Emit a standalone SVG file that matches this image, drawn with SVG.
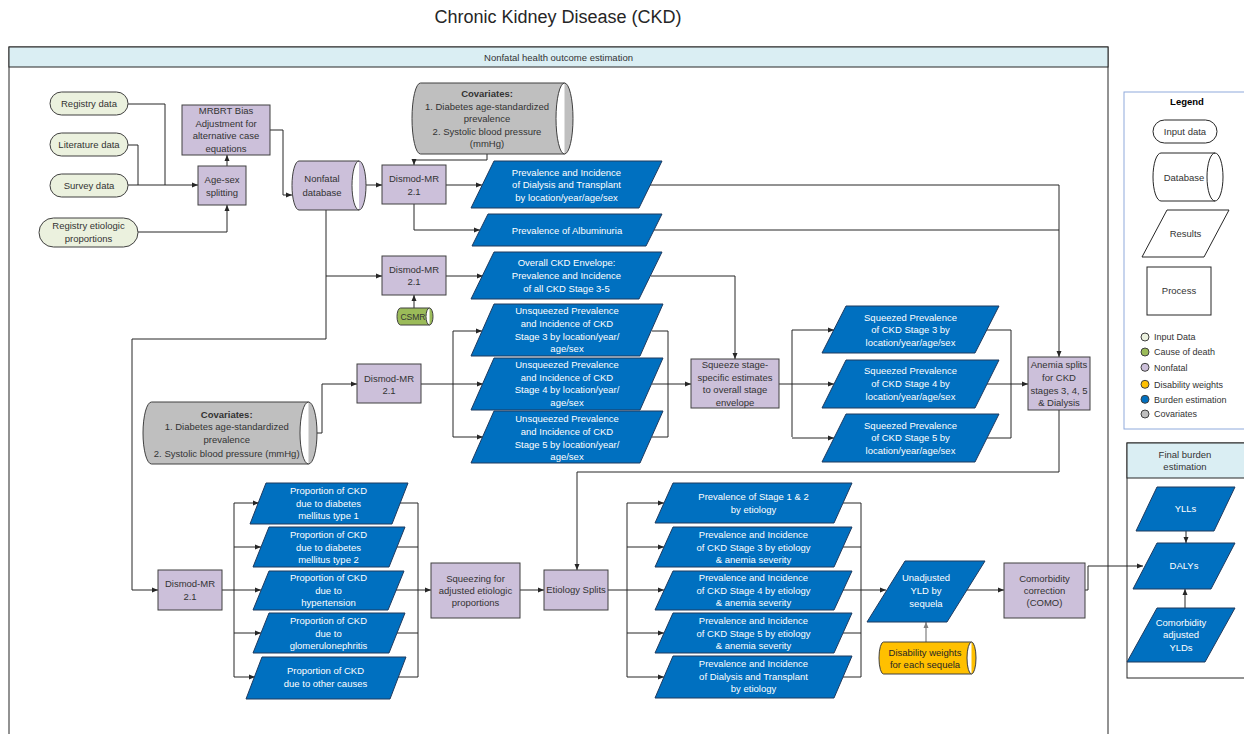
<svg xmlns="http://www.w3.org/2000/svg" width="1244" height="734" viewBox="0 0 1244 734">
<defs>
<style>
.t{font-family:"Liberation Sans",Arial,sans-serif;font-size:9.5px;fill:#333;text-anchor:middle}
.tw{fill:#fff}
.b{font-weight:bold}
.proc{fill:#CCC0DA;stroke:#404040;stroke-width:1}
.res{fill:#0070C0;stroke:#1F3A5F;stroke-width:1}
.inp{fill:#EBF1DE;stroke:#404040;stroke-width:1}
.cov{fill:#BFBFBF;stroke:#404040;stroke-width:1}
.csmr{fill:#9BBB59;stroke:#404040;stroke-width:1}
.dw{fill:#FFC000;stroke:#404040;stroke-width:1}
.lg{fill:#fff;stroke:#262626;stroke-width:1}
.c{fill:none;stroke:#262626;stroke-width:1}
.cg{fill:none;stroke:#7F7F7F;stroke-width:1.2}
.a{marker-end:url(#ah)}
.ag{marker-end:url(#ahg)}
.lt{font-family:"Liberation Sans",Arial,sans-serif;font-size:9px;fill:#333}
</style>
<marker id="ah" viewBox="0 0 6 6" refX="6" refY="3" markerWidth="6" markerHeight="6" markerUnits="userSpaceOnUse" orient="auto"><path d="M0,0.5 L6,3 L0,5.5 Z" fill="#262626"/></marker>
<marker id="ahg" viewBox="0 0 6 6" refX="6" refY="3" markerWidth="6" markerHeight="6" markerUnits="userSpaceOnUse" orient="auto"><path d="M0,0.5 L6,3 L0,5.5 Z" fill="#7F7F7F"/></marker>
</defs>
<rect x="0" y="0" width="1244" height="734" fill="#fff"/>
<g id="title"><text x="558" y="23" style="font-family:'Liberation Sans',Arial,sans-serif;font-size:18px;fill:#262626;text-anchor:middle">Chronic Kidney Disease (CKD)</text></g>

<g id="container-nonfatal">
<rect x="9" y="47" width="1099" height="700" fill="#fff" stroke="#262626" stroke-width="1"/>
<rect x="9" y="47" width="1099" height="20" fill="#DAEEF3" stroke="#262626" stroke-width="1"/>
<text class="t" x="558.5" y="60.5">Nonfatal health outcome estimation</text>
</g>

<g id="container-legend">
<rect x="1124" y="92" width="130" height="337" fill="#fff" stroke="#8FAADC" stroke-width="1"/>
<text class="t b" x="1187" y="105" style="fill:#000">Legend</text>
<rect class="lg" x="1153" y="120" width="64" height="23" rx="11.5"/>
<text class="t" x="1185" y="134.5">Input data</text>
<path class="lg" d="M1161,153 H1215 A8,24 0 0 1 1215,201 H1161 A8,24 0 0 1 1161,153 Z M1215,153 A8,24 0 0 0 1215,201"/>
<text class="t" x="1184" y="180.5">Database</text>
<polygon class="lg" points="1167,210 1229,210 1204,257 1142,257"/>
<text class="t" x="1185.5" y="237">Results</text>
<rect class="lg" x="1147" y="267" width="64" height="48"/>
<text class="t" x="1179" y="294.3">Process</text>
<circle cx="1145" cy="337" r="4" fill="#EBF1DE" stroke="#404040"/>
<text class="lt" x="1154" y="340.2">Input Data</text>
<circle cx="1145" cy="352" r="4" fill="#9BBB59" stroke="#404040"/>
<text class="lt" x="1154" y="355.2">Cause of death</text>
<circle cx="1145" cy="367.3" r="4" fill="#CCC0DA" stroke="#404040"/>
<text class="lt" x="1154" y="370.5">Nonfatal</text>
<circle cx="1145" cy="384.3" r="4" fill="#FFC000" stroke="#404040"/>
<text class="lt" x="1154" y="387.5">Disability weights</text>
<circle cx="1145" cy="399.3" r="4" fill="#0070C0" stroke="#404040"/>
<text class="lt" x="1154" y="402.5">Burden estimation</text>
<circle cx="1145" cy="414" r="4" fill="#BFBFBF" stroke="#404040"/>
<text class="lt" x="1154" y="417.2">Covariates</text>
</g>

<g id="container-final">
<rect x="1127" y="443" width="130" height="235" fill="#fff" stroke="#262626" stroke-width="1"/>
<rect x="1127" y="443" width="130" height="35" fill="#DAEEF3" stroke="#262626" stroke-width="1"/>
<text class="t" x="1185" y="458.3">Final burden</text>
<text class="t" x="1185" y="470.3">estimation</text>
</g>

<g id="connectors">
<path class="c" d="M128,104 H165 V185"/>
<path class="c" d="M128,145 H138 V185"/>
<path class="c a" d="M128,185 H198"/>
<path class="c a" d="M138,232 H227 V205"/>
<path class="c a" d="M227,166 V155"/>
<path class="c a" d="M270,130 H283 V195 H292"/>
<path class="c a" d="M360,185 H382"/>
<path class="c a" d="M487,154 V160 H414 V165"/>
<path class="c a" d="M446,185 H482"/>
<path class="c a" d="M414,204 V230 H480"/>
<path class="c a" d="M326,210 V339 H132 V590 H158"/>
<path class="c a" d="M326,276 H382"/>
<path class="c a" d="M414,308 V295"/>
<path class="c a" d="M446,276 H483"/>
<path class="c a" d="M650,185 H1059 V357"/>
<path class="c" d="M654,230 H1059"/>
<path class="c a" d="M651,276 H735 V359"/>
<path class="c a" d="M310,433 H322 V384 H357"/>
<path class="c" d="M421,384 H453 M453,331 V437"/>
<path class="c a" d="M453,331 H482"/>
<path class="c a" d="M453,384 H483"/>
<path class="c a" d="M453,437 H483"/>
<path class="c" d="M652,331 H668 M652,384 H668 M652,437 H668 M668,331 V437"/>
<path class="c a" d="M668,384 H691"/>
<path class="c" d="M779,384 H792 M792,330 V437"/>
<path class="c a" d="M792,330 H834"/>
<path class="c a" d="M792,384 H834"/>
<path class="c a" d="M792,438 H834"/>
<path class="c" d="M987,330 H1011 M987,384 H1011 M987,438 H1011 M1011,330 V438"/>
<path class="c a" d="M1011,384 H1028"/>
<path class="c a" d="M1059,410 V472 H577 V570"/>
<path class="c" d="M222,590 H234 M234,503 V677"/>
<path class="c a" d="M234,503 H259"/>
<path class="c a" d="M234,547 H261"/>
<path class="c a" d="M234,590 H261"/>
<path class="c a" d="M234,633 H261"/>
<path class="c a" d="M234,677 H255"/>
<path class="c" d="M400,503 H418 M397,547 H418 M396,590 H418 M397,633 H418 M398,677 H418 M418,503 V677"/>
<path class="c a" d="M418,590 H431"/>
<path class="c a" d="M520,590 H544"/>
<path class="c" d="M608,590 H627 M627,503 V677"/>
<path class="c a" d="M627,503 H664"/>
<path class="c a" d="M627,547 H664"/>
<path class="c a" d="M627,590 H664"/>
<path class="c a" d="M627,633 H664"/>
<path class="c a" d="M627,677 H664"/>
<path class="c" d="M843,503 H861 M843,547 H861 M843,590 H861 M843,633 H861 M843,677 H861 M861,503 V677"/>
<path class="c a" d="M861,590 H886"/>
<path class="cg ag" d="M926,642 V622"/>
<path class="c a" d="M966,590 H1004"/>
<path class="c a" d="M1085,590 H1088 V566 H1143"/>
<path class="c a" d="M1186,531 V543"/>
<path class="c a" d="M1185,608 V589"/>
</g>

<g id="registry-data"><rect class="inp" x="50" y="92" width="78" height="23" rx="11.5"/><text class="t" x="89" y="107.3">Registry data</text></g>
<g id="literature-data"><rect class="inp" x="50" y="133" width="78" height="23" rx="11.5"/><text class="t" x="89" y="148.3">Literature data</text></g>
<g id="survey-data"><rect class="inp" x="50" y="174" width="78" height="23" rx="11.5"/><text class="t" x="89" y="189.3">Survey data</text></g>
<g id="registry-etiologic"><rect class="inp" x="39" y="218" width="99" height="29" rx="14.5"/><text class="t" x="88.5" y="229.3">Registry etiologic</text><text class="t" x="88.5" y="242.3">proportions</text></g>

<g id="age-sex"><rect class="proc" x="198" y="166" width="48" height="39"/><text class="t" x="222" y="182.6">Age-sex</text><text class="t" x="222" y="195.9">splitting</text></g>
<g id="mrbrt"><rect class="proc" x="182" y="105" width="88" height="50"/><text class="t" x="226" y="114.3">MRBRT Bias</text><text class="t" x="226" y="126.6">Adjustment for</text><text class="t" x="226" y="139.3">alternative case</text><text class="t" x="226" y="151.6">equations</text></g>

<g id="nonfatal-db"><path class="proc" d="M299,161 H359 A7,24.5 0 0 1 359,210 H299 A7,24.5 0 0 1 299,161 Z M359,161 A7,24.5 0 0 0 359,210"/><text class="t" x="322" y="182.3">Nonfatal</text><text class="t" x="322" y="195.6">database</text></g>

<g id="covariates-top"><path class="cov" d="M420.5,83 H564.5 A8.5,35.5 0 0 1 564.5,154 H420.5 A8.5,35.5 0 0 1 420.5,83 Z M564.5,83 A8.5,35.5 0 0 0 564.5,154"/><text class="t b" x="487" y="97.3">Covariates:</text><text class="t" x="487" y="110">1. Diabetes age-standardized</text><text class="t" x="487" y="122.3">prevalence</text><text class="t" x="487" y="135">2. Systolic blood pressure</text><text class="t" x="487" y="147.3">(mmHg)</text></g>

<g id="dismod-1"><rect class="proc" x="382" y="165" width="64" height="39"/><text class="t" x="414" y="182">Dismod-MR</text><text class="t" x="414" y="195">2.1</text></g>
<g id="dismod-2"><rect class="proc" x="382" y="256" width="64" height="39"/><text class="t" x="414" y="272.6">Dismod-MR</text><text class="t" x="414" y="285">2.1</text></g>
<g id="csmr"><path class="csmr" d="M400.5,308 H429.5 A3.5,8.5 0 0 1 429.5,325 H400.5 A3.5,8.5 0 0 1 400.5,308 Z M429.5,308 A3.5,8.5 0 0 0 429.5,325"/><text class="t" x="413" y="319.6" style="font-size:8.5px">CSMR</text></g>

<g id="res-dialysis"><polygon class="res" points="494,161 662,161 639,208 471,208"/><text class="t tw" x="566.5" y="176">Prevalence and Incidence</text><text class="t tw" x="566.5" y="188.3">of Dialysis and Transplant</text><text class="t tw" x="566.5" y="201">by location/year/age/sex</text></g>
<g id="res-albuminuria"><polygon class="res" points="488,214 662,214 646,246 472,246"/><text class="t tw" x="567" y="234">Prevalence of Albuminuria</text></g>
<g id="res-envelope"><polygon class="res" points="494,252 662,252 639,299 471,299"/><text class="t tw" x="566.5" y="266">Overall CKD Envelope:</text><text class="t tw" x="566.5" y="279">Prevalence and Incidence</text><text class="t tw" x="566.5" y="291.6">of all CKD Stage 3-5</text></g>

<g id="covariates-mid"><path class="cov" d="M151.5,402 H308.5 A8.5,31 0 0 1 308.5,464 H151.5 A8.5,31 0 0 1 151.5,402 Z M308.5,402 A8.5,31 0 0 0 308.5,464"/><text class="t b" x="226.7" y="418.3">Covariates:</text><text class="t" x="226.7" y="430">1. Diabetes age-standardized</text><text class="t" x="226.7" y="443.3">prevalence</text><text class="t" x="226.7" y="456.6">2. Systolic blood pressure (mmHg)</text></g>

<g id="dismod-3"><rect class="proc" x="357" y="364" width="64" height="39"/><text class="t" x="389" y="381.6">Dismod-MR</text><text class="t" x="389" y="393.6">2.1</text></g>

<g id="unsq-3"><polygon class="res" points="494,304 663,304 640,356 471,356"/><text class="t tw" x="567" y="314">Unsqueezed Prevalence</text><text class="t tw" x="567" y="326.6">and Incidence of CKD</text><text class="t tw" x="567" y="340">Stage 3 by location/year/</text><text class="t tw" x="567" y="352.3">age/sex</text></g>
<g id="unsq-4"><polygon class="res" points="494,358 663,358 640,410 471,410"/><text class="t tw" x="567" y="368.3">Unsqueezed Prevalence</text><text class="t tw" x="567" y="381">and Incidence of CKD</text><text class="t tw" x="567" y="393.3">Stage 4 by location/year/</text><text class="t tw" x="567" y="406">age/sex</text></g>
<g id="unsq-5"><polygon class="res" points="494,411 663,411 640,463 471,463"/><text class="t tw" x="567" y="422.3">Unsqueezed Prevalence</text><text class="t tw" x="567" y="435">and Incidence of CKD</text><text class="t tw" x="567" y="448.3">Stage 5 by location/year/</text><text class="t tw" x="567" y="460">age/sex</text></g>

<g id="squeeze-stage"><rect class="proc" x="691" y="359" width="88" height="49"/><text class="t" x="735" y="368.3">Squeeze stage-</text><text class="t" x="735" y="380.6">specific estimates</text><text class="t" x="735" y="393.3">to overall stage</text><text class="t" x="735" y="405.6">envelope</text></g>

<g id="sq-3"><polygon class="res" points="846,306 999,306 975,353 822,353"/><text class="t tw" x="910.5" y="321">Squeezed Prevalence</text><text class="t tw" x="910.5" y="333.3">of CKD Stage 3 by</text><text class="t tw" x="910.5" y="346">location/year/age/sex</text></g>
<g id="sq-4"><polygon class="res" points="846,360 999,360 975,408 822,408"/><text class="t tw" x="910.5" y="374.3">Squeezed Prevalence</text><text class="t tw" x="910.5" y="387.3">of CKD Stage 4 by</text><text class="t tw" x="910.5" y="400">location/year/age/sex</text></g>
<g id="sq-5"><polygon class="res" points="846,414 999,414 975,462 822,462"/><text class="t tw" x="910.5" y="429.3">Squeezed Prevalence</text><text class="t tw" x="910.5" y="441">of CKD Stage 5 by</text><text class="t tw" x="910.5" y="454.3">location/year/age/sex</text></g>

<g id="anemia"><rect class="proc" x="1028" y="357" width="62" height="53"/><text class="t" x="1059" y="368.3">Anemia splits</text><text class="t" x="1059" y="381">for CKD</text><text class="t" x="1059" y="394.3">stages 3, 4, 5</text><text class="t" x="1059" y="406">&amp; Dialysis</text></g>

<g id="dismod-4"><rect class="proc" x="158" y="570" width="64" height="40"/><text class="t" x="190" y="586.6">Dismod-MR</text><text class="t" x="190" y="600">2.1</text></g>

<g id="prop-1"><polygon class="res" points="266,483 408,483 392,524 250,524"/><text class="t tw" x="328.5" y="494">Proportion of CKD</text><text class="t tw" x="328.5" y="506.6">due to diabetes</text><text class="t tw" x="328.5" y="519">mellitus type 1</text></g>
<g id="prop-2"><polygon class="res" points="269,527 405,527 389,567 253,567"/><text class="t tw" x="328.5" y="537.6">Proportion of CKD</text><text class="t tw" x="328.5" y="551">due to diabetes</text><text class="t tw" x="328.5" y="562.6">mellitus type 2</text></g>
<g id="prop-3"><polygon class="res" points="269,571 404,571 388,610 253,610"/><text class="t tw" x="328.5" y="581">Proportion of CKD</text><text class="t tw" x="328.5" y="594">due to</text><text class="t tw" x="328.5" y="606">hypertension</text></g>
<g id="prop-4"><polygon class="res" points="269,613 405,613 389,653 253,653"/><text class="t tw" x="328.5" y="624">Proportion of CKD</text><text class="t tw" x="328.5" y="636.6">due to</text><text class="t tw" x="328.5" y="649">glomerulonephritis</text></g>
<g id="prop-5"><polygon class="res" points="262,657 406,657 390,699 246,699"/><text class="t tw" x="325.5" y="674">Proportion of CKD</text><text class="t tw" x="325.5" y="686.6">due to other causes</text></g>

<g id="squeezing"><rect class="proc" x="431" y="563" width="89" height="55"/><text class="t" x="475.5" y="581.6">Squeezing for</text><text class="t" x="475.5" y="594">adjusted etiologic</text><text class="t" x="475.5" y="606.3">proportions</text></g>

<g id="etiology-splits"><rect class="proc" x="544" y="570" width="64" height="40"/><text class="t" x="576" y="593.3">Etiology Splits</text></g>

<g id="et-1"><polygon class="res" points="673,483 852,483 834,523 655,523"/><text class="t tw" x="753.5" y="500">Prevalence of Stage 1 &amp; 2</text><text class="t tw" x="753.5" y="512.6">by etiology</text></g>
<g id="et-2"><polygon class="res" points="673,527 852,527 834,567 655,567"/><text class="t tw" x="753.5" y="538.3">Prevalence and Incidence</text><text class="t tw" x="753.5" y="551">of CKD Stage 3 by etiology</text><text class="t tw" x="753.5" y="563.3">&amp; anemia severity</text></g>
<g id="et-3"><polygon class="res" points="673,571 852,571 834,610 655,610"/><text class="t tw" x="753.5" y="581">Prevalence and Incidence</text><text class="t tw" x="753.5" y="594">of CKD Stage 4 by etiology</text><text class="t tw" x="753.5" y="606">&amp; anemia severity</text></g>
<g id="et-4"><polygon class="res" points="673,613 852,613 834,653 655,653"/><text class="t tw" x="753.5" y="624">Prevalence and Incidence</text><text class="t tw" x="753.5" y="636.6">of CKD Stage 5 by etiology</text><text class="t tw" x="753.5" y="649">&amp; anemia severity</text></g>
<g id="et-5"><polygon class="res" points="673,656 852,656 834,698 655,698"/><text class="t tw" x="753.5" y="666.6">Prevalence and Incidence</text><text class="t tw" x="753.5" y="680">of Dialysis and Transplant</text><text class="t tw" x="753.5" y="692.3">by etiology</text></g>

<g id="unadjusted-yld"><polygon class="res" points="905,561 985,561 947,622 867,622"/><text class="t tw" x="926" y="581">Unadjusted</text><text class="t tw" x="926" y="594">YLD by</text><text class="t tw" x="926" y="606.6">sequela</text></g>
<g id="disability-weights"><path class="dw" d="M883.5,642 H971.5 A4.5,16 0 0 1 971.5,674 H883.5 A4.5,16 0 0 1 883.5,642 Z M971.5,642 A4.5,16 0 0 0 971.5,674"/><text class="t" x="925" y="656" style="fill:#262626">Disability weights</text><text class="t" x="925" y="668.3" style="fill:#262626">for each sequela</text></g>

<g id="como"><rect class="proc" x="1004" y="563" width="81" height="55"/><text class="t" x="1044.5" y="581.6">Comorbidity</text><text class="t" x="1044.5" y="594">correction</text><text class="t" x="1044.5" y="606.3">(COMO)</text></g>

<g id="ylls"><polygon class="res" points="1157,487 1235,487 1214,531 1136,531"/><text class="t tw" x="1185.5" y="512.3">YLLs</text></g>
<g id="dalys"><polygon class="res" points="1157,543 1235,543 1211,589 1133,589"/><text class="t tw" x="1184" y="569.3">DALYs</text></g>
<g id="como-ylds"><polygon class="res" points="1157,608 1235,608 1205,662 1127,662"/><text class="t tw" x="1181" y="626">Comorbidity</text><text class="t tw" x="1181" y="638.3">adjusted</text><text class="t tw" x="1181" y="650.6">YLDs</text></g>
</svg>
